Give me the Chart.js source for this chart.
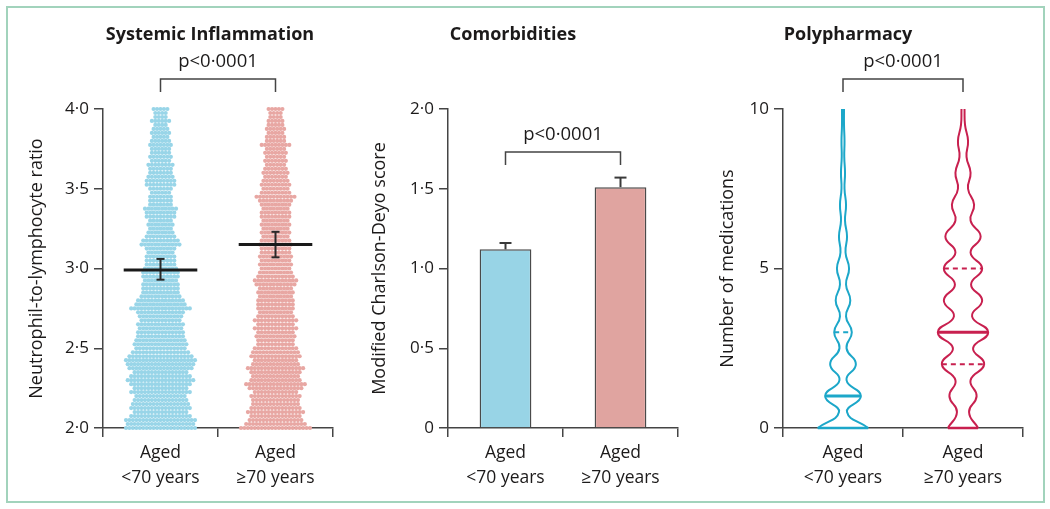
<!DOCTYPE html>
<html>
<head>
<meta charset="utf-8">
<script src="https://cdn.jsdelivr.net/npm/chart.js@4.4.1/dist/chart.umd.min.js"></script>
<style>
  html, body { margin: 0; padding: 0; background: #fff; }
  #frame { position: absolute; left: 6px; top: 6px; width: 1035px; height: 493px; border: 2px solid #a2d3bc; }
  .panel { position: absolute; left: 0; top: 0; width: 1050px; height: 509px; pointer-events: none; }
</style>
</head>
<body>
<div id="frame"></div>
<div class="panel"><canvas id="graf1"></canvas></div>
<div class="panel"><canvas id="graf2"></canvas></div>
<div class="panel"><canvas id="graf3"></canvas></div>
<script>
//---------------------------------------------------------------
//                 DATA

const groupLabels = [['Aged', '<70 years'], ['Aged', '\u226570 years']];

// systemic inflammation: dots per row of the swarm, bottom (2·0) to top (4·0)
const nlrStart = 2.0;
const nlrStep = 0.025;
const nlrYoung = [21,20,21,18,16,18,17,16,15,18, 16,18,20,18,16,19,20,21,19,17,
                  15,16,15,14,14,13,14,12,13,14, 18,15,14,12,11,11,11,10,11,11,
                  10,9,9,9,8,9,12,11,9,8, 7,8,7,9,9,10,7,7,7,6,
                  7,9,9,8,7,7,8,6,7,6, 6,7,6,5,6,5,4,6,4,4, 5];
const nlrOld = [21,18,16,15,17,15,14,14,15,13, 16,18,15,14,15,17,14,13,15,14,
                13,11,11,12,11,13,11,13,11,10, 11,11,11,10,11,10,12,13,11,10,
                9,10,9,10,9,9,10,9,8,9, 8,9,8,9,9,8,9,10,12,9,
                8,9,8,7,8,7,6,7,6,7, 6,9,6,6,5,6,5,5,4,4, 5];
const nlrMean = [2.99, 3.15];
const nlrSemLow = [2.93, 3.07];
const nlrSemHigh = [3.06, 3.23];

// comorbidities: modified Charlson-Deyo score
const cciMean = [1.12, 1.51];
const cciSemHigh = [1.16, 1.57];

// polypharmacy: violin density (relative half width) at each level
const medLevels = [0, 0.5, 1, 1.5, 2, 2.5, 3, 3.5, 4, 4.5, 5, 5.5, 6, 6.5, 7, 7.5, 8, 8.5, 9, 9.5, 10];
const medDensYoung = [1.0, 0.16, 0.71, 0.14, 0.51, 0.14, 0.35, 0.12, 0.29, 0.12, 0.24,
                      0.10, 0.16, 0.08, 0.12, 0.06, 0.08, 0.05, 0.06, 0.04, 0.04];
const medDensOld = [0.60, 0.24, 0.54, 0.30, 0.84, 0.40, 1.0, 0.36, 0.76, 0.32, 0.76,
                    0.30, 0.70, 0.30, 0.44, 0.20, 0.30, 0.14, 0.20, 0.08, 0.06];
const medMedian = [1, 3];
const medQ1 = [0, 2];
const medQ3 = [3, 5];

//---------------------------------------------------------------
//                 STYLE

const FONT = "'Open Sans', sans-serif";
const INK = '#1c1a1a';
const AXIS = '#444';
const BLUE_DOT = '#98d5e8';
const PINK_DOT = '#e8a7a3';
const BLUE_BAR = '#98d4e6';
const PINK_BAR = '#e0a4a0';
const BLUE_LINE = '#1ca7c9';
const PINK_LINE = '#c8204f';

Chart.defaults.font.family = FONT;
Chart.defaults.color = INK;
Chart.defaults.animation = false;

// titles, p values and brackets
const notes = {
    id: 'notes',
    afterDraw(chart, args, o) {
        const ctx = chart.ctx;
        const xv = chart.scales.xv;
        const x0 = xv.getPixelForValue(0);
        const x1 = xv.getPixelForValue(1);
        ctx.save();
        ctx.fillStyle = INK;
        ctx.textAlign = 'center';
        ctx.textBaseline = 'middle';
        ctx.font = 'bold 18px ' + FONT;
        ctx.fillText(o.title, o.titleX, 35);
        ctx.font = '18.5px ' + FONT;
        ctx.fillText('p<0\u00b70001', (x0 + x1) / 2, o.bracketY - 17);
        ctx.strokeStyle = AXIS;
        ctx.lineWidth = 1.5;
        ctx.beginPath();
        ctx.moveTo(x0, o.bracketY + 13);
        ctx.lineTo(x0, o.bracketY);
        ctx.lineTo(x1, o.bracketY);
        ctx.lineTo(x1, o.bracketY + 13);
        ctx.stroke();
        ctx.restore();
    }
};

function dotFmt(v) {
    return v === 0 ? '0' : v.toFixed(1).replace('.', '\u00b7');
}

function yAxis(min, max, step, fmt, title, width) {
    return {
        min: min, max: max,
        ticks: { stepSize: step, callback: fmt, padding: 5, font: { size: 17 }, color: INK },
        grid: { display: true, drawOnChartArea: false, drawTicks: true, tickLength: 9, color: AXIS, lineWidth: 1.5 },
        border: { display: true, color: AXIS, width: 1.5 },
        title: { display: true, text: title, font: { size: 18 }, padding: 0, color: INK },
        afterFit: function (s) { s.width = width; }
    };
}

function xAxis() {
    return {
        type: 'category', labels: groupLabels, offset: true,
        grid: { display: true, offset: true, drawOnChartArea: false, drawTicks: true, tickLength: 9, color: AXIS, lineWidth: 1.5 },
        border: { display: true, color: AXIS, width: 1.5 },
        ticks: { padding: 3, font: { size: 17.5, lineHeight: 1.45 }, color: INK, maxRotation: 0, autoSkip: false },
        afterFit: function (s) { s.height = 70; }
    };
}

function hiddenX() {
    return { type: 'linear', display: false, offset: false, min: -0.5, max: 1.5, grid: { offset: false } };
}

function seg(points, color, width, extra) {
    return Object.assign({
        type: 'scatter', xAxisID: 'xv', data: points, showLine: true,
        borderColor: color, borderWidth: width, pointRadius: 0, tension: 0, clip: false
    }, extra || {});
}

function baseOptions(ymin, ymax, step, fmt, title, yw, pad, noteOpts) {
    return {
        responsive: true,
        maintainAspectRatio: false,
        events: [],
        layout: { padding: pad },
        plugins: { legend: { display: false }, tooltip: { enabled: false }, notes: noteOpts },
        scales: { x: xAxis(), xv: hiddenX(), y: yAxis(ymin, ymax, step, fmt, title, yw) }
    };
}

//---------------------------------------------------------------
//                 GRAPH 1: systemic inflammation (swarm)

function swarm(center, counts) {
    const gap = 0.03;
    const pts = [];
    counts.forEach(function (n, i) {
        const y = nlrStart + i * nlrStep;
        for (let j = 0; j < n; j++) {
            pts.push({ x: center + (j - (n - 1) / 2) * gap, y: y });
        }
    });
    return pts;
}

function grafico1() {
    const ds = [];
    for (let g = 0; g < 2; g++) {
        ds.push(seg([{ x: g - 0.32, y: nlrMean[g] }, { x: g + 0.32, y: nlrMean[g] }], '#1a1a1a', 3));
        ds.push(seg([{ x: g, y: nlrSemLow[g] }, { x: g, y: nlrSemHigh[g] }], '#2a2a2a', 2,
            { pointStyle: 'line', pointRadius: 4, pointBorderWidth: 2, pointBorderColor: '#2a2a2a' }));
    }
    [nlrYoung, nlrOld].forEach(function (counts, g) {
        ds.push({
            type: 'scatter', xAxisID: 'xv', data: swarm(g, counts),
            pointRadius: 2.1, pointBorderWidth: 0,
            backgroundColor: g === 0 ? BLUE_DOT : PINK_DOT, clip: false
        });
    });
    new Chart(document.getElementById('graf1'), {
        type: 'scatter',
        data: { labels: groupLabels, datasets: ds },
        options: baseOptions(2, 4, 0.5, dotFmt, 'Neutrophil-to-lymphocyte ratio', 77,
            { left: 26, right: 717, top: 109, bottom: 11 },
            { title: 'Systemic Inflammation', titleX: 210, bracketY: 79 }),
        plugins: [notes]
    });
}

//---------------------------------------------------------------
//                 GRAPH 2: comorbidities (bars)

function grafico2() {
    const ds = [];
    for (let g = 0; g < 2; g++) {
        ds.push(seg([{ x: g, y: cciMean[g] }, { x: g, y: cciSemHigh[g] }], '#3a3a3a', 2,
            { pointStyle: 'line', pointRadius: [0, 6], pointBorderWidth: 2, pointBorderColor: '#3a3a3a' }));
    }
    ds.push({
        type: 'bar', xAxisID: 'x', yAxisID: 'y', data: cciMean, grouped: false,
        backgroundColor: [BLUE_BAR, PINK_BAR], borderColor: '#4a4a4a', borderWidth: 1.5,
        categoryPercentage: 1, barPercentage: 0.45
    });
    new Chart(document.getElementById('graf2'), {
        type: 'bar',
        data: { labels: groupLabels, datasets: ds },
        options: baseOptions(0, 2, 0.5, dotFmt, 'Modified Charlson-Deyo score', 79,
            { left: 369, right: 372, top: 109, bottom: 11 },
            { title: 'Comorbidities', titleX: 513, bracketY: 152 }),
        plugins: [notes]
    });
}

//---------------------------------------------------------------
//                 GRAPH 3: polypharmacy (violins)

function violin(c, dens, color, med, q1, q3) {
    const half = 0.21;
    const w = function (y) { return dens[medLevels.indexOf(y)] * half; };
    const side = function (s) {
        return medLevels.map(function (y, i) { return { x: c + s * dens[i] * half, y: y }; });
    };
    const across = function (y) { return [{ x: c - w(y), y: y }, { x: c + w(y), y: y }]; };
    return [
        seg(across(med), color, 3),
        seg(across(q1), color, 2, { borderDash: [5, 4] }),
        seg(across(q3), color, 2, { borderDash: [5, 4] }),
        seg(across(0), color, 2.5),
        seg(side(-1), color, 2, { tension: 0.5 }),
        seg(side(1), color, 2, { tension: 0.5 })
    ];
}

function grafico3() {
    const ds = violin(0, medDensYoung, BLUE_LINE, medMedian[0], medQ1[0], medQ3[0])
        .concat(violin(1, medDensOld, PINK_LINE, medMedian[1], medQ1[1], medQ3[1]));
    new Chart(document.getElementById('graf3'), {
        type: 'scatter',
        data: { labels: groupLabels, datasets: ds },
        options: baseOptions(0, 10, 5, function (v) { return String(v); }, 'Number of medications', 66,
            { left: 717, right: 27, top: 109, bottom: 11 },
            { title: 'Polypharmacy', titleX: 848, bracketY: 79 }),
        plugins: [notes]
    });
}

grafico1();
grafico2();
grafico3();
</script>
</body>
</html>
